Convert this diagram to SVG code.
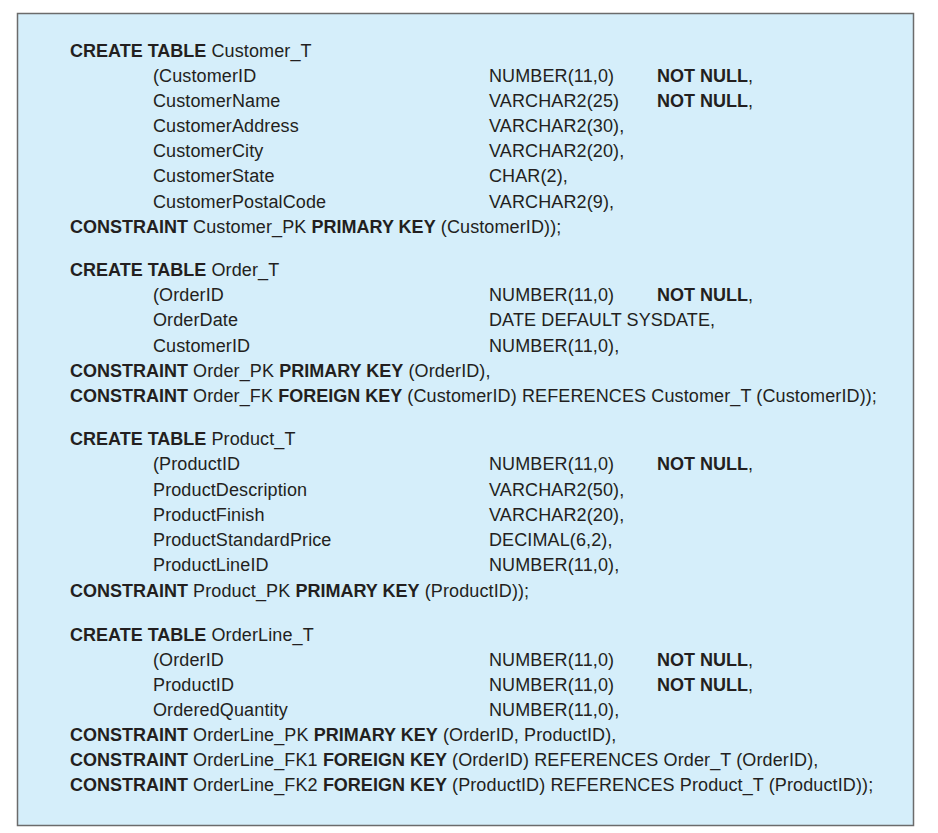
<svg xmlns="http://www.w3.org/2000/svg" width="938" height="833" viewBox="0 0 938 833">
<style>
text{font-family:"Liberation Sans",Arial,Helvetica,sans-serif;font-size:18px;fill:#231f20;letter-spacing:0.12px}
.b{font-weight:bold;letter-spacing:0}
</style>
<rect x="0" y="0" width="938" height="833" fill="#ffffff"/>
<rect id="panel" x="17.5" y="13.5" width="896" height="812" fill="#d5eefa" stroke="#6b6b6b" stroke-width="1.5"/>
<g id="customer">
<text x="70" y="57"><tspan class="b">CREATE TABLE</tspan> Customer_T</text>
<text x="153" y="82">(CustomerID</text><text x="489" y="82">NUMBER(11,0)</text><text x="657" y="82"><tspan class="b">NOT NULL</tspan>,</text>
<text x="153" y="107">CustomerName</text><text x="489" y="107">VARCHAR2(25)</text><text x="657" y="107"><tspan class="b">NOT NULL</tspan>,</text>
<text x="153" y="132">CustomerAddress</text><text x="489" y="132">VARCHAR2(30),</text>
<text x="153" y="157">CustomerCity</text><text x="489" y="157">VARCHAR2(20),</text>
<text x="153" y="182">CustomerState</text><text x="489" y="182">CHAR(2),</text>
<text x="153" y="208">CustomerPostalCode</text><text x="489" y="208">VARCHAR2(9),</text>
<text x="70" y="233"><tspan class="b">CONSTRAINT</tspan> Customer_PK <tspan class="b">PRIMARY KEY</tspan> (CustomerID));</text>
</g>
<g id="order">
<text x="70" y="276"><tspan class="b">CREATE TABLE</tspan> Order_T</text>
<text x="153" y="301">(OrderID</text><text x="489" y="301">NUMBER(11,0)</text><text x="657" y="301"><tspan class="b">NOT NULL</tspan>,</text>
<text x="153" y="326">OrderDate</text><text x="489" y="326">DATE DEFAULT SYSDATE,</text>
<text x="153" y="352">CustomerID</text><text x="489" y="352">NUMBER(11,0),</text>
<text x="70" y="377"><tspan class="b">CONSTRAINT</tspan> Order_PK <tspan class="b">PRIMARY KEY</tspan> (OrderID),</text>
<text x="70" y="402"><tspan class="b">CONSTRAINT</tspan> Order_FK <tspan class="b">FOREIGN KEY</tspan> (CustomerID) REFERENCES Customer_T (CustomerID));</text>
</g>
<g id="product">
<text x="70" y="445"><tspan class="b">CREATE TABLE</tspan> Product_T</text>
<text x="153" y="470">(ProductID</text><text x="489" y="470">NUMBER(11,0)</text><text x="657" y="470"><tspan class="b">NOT NULL</tspan>,</text>
<text x="153" y="496">ProductDescription</text><text x="489" y="496">VARCHAR2(50),</text>
<text x="153" y="521">ProductFinish</text><text x="489" y="521">VARCHAR2(20),</text>
<text x="153" y="546">ProductStandardPrice</text><text x="489" y="546">DECIMAL(6,2),</text>
<text x="153" y="571">ProductLineID</text><text x="489" y="571">NUMBER(11,0),</text>
<text x="70" y="597"><tspan class="b">CONSTRAINT</tspan> Product_PK <tspan class="b">PRIMARY KEY</tspan> (ProductID));</text>
</g>
<g id="orderline">
<text x="70" y="641"><tspan class="b">CREATE TABLE</tspan> OrderLine_T</text>
<text x="153" y="666">(OrderID</text><text x="489" y="666">NUMBER(11,0)</text><text x="657" y="666"><tspan class="b">NOT NULL</tspan>,</text>
<text x="153" y="691">ProductID</text><text x="489" y="691">NUMBER(11,0)</text><text x="657" y="691"><tspan class="b">NOT NULL</tspan>,</text>
<text x="153" y="716">OrderedQuantity</text><text x="489" y="716">NUMBER(11,0),</text>
<text x="70" y="741"><tspan class="b">CONSTRAINT</tspan> OrderLine_PK <tspan class="b">PRIMARY KEY</tspan> (OrderID, ProductID),</text>
<text x="70" y="766"><tspan class="b">CONSTRAINT</tspan> OrderLine_FK1 <tspan class="b">FOREIGN KEY</tspan> (OrderID) REFERENCES Order_T (OrderID),</text>
<text x="70" y="791"><tspan class="b">CONSTRAINT</tspan> OrderLine_FK2 <tspan class="b">FOREIGN KEY</tspan> (ProductID) REFERENCES Product_T (ProductID));</text>
</g>
<g id="connectors"/>
</svg>
